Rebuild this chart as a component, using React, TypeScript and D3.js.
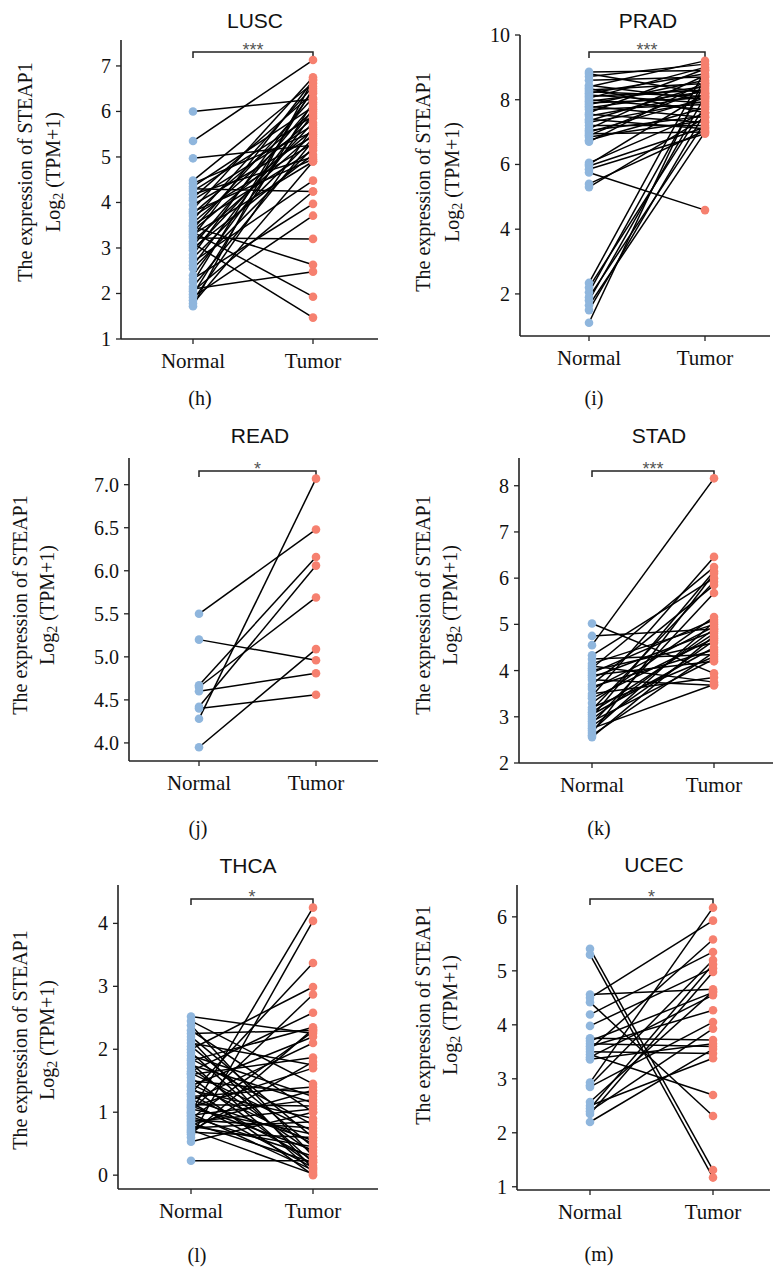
import React from "react";
import * as d3 from "d3";

// ---------- DATA (Normal, Tumor pairs) ----------
const groups = ["Normal", "Tumor"];

const luscNormal = [6.0, 5.35, 4.97, 4.48, 4.42, 4.35, 4.3, 4.25, 4.18, 4.1, 4.05, 3.95, 3.85, 3.8, 3.76, 3.7, 3.62, 3.55, 3.5, 3.47, 3.42, 3.38, 3.35, 3.3, 3.25, 3.22, 3.15, 3.1, 3.05, 3.0, 2.95, 2.85, 2.78, 2.7, 2.62, 2.55, 2.4, 2.32, 2.25, 2.15, 2.1, 2.05, 1.98, 1.92, 1.85, 1.78, 1.72];
const luscTumor = [6.27, 7.13, 5.26, 6.62, 5.55, 6.1, 4.24, 5.9, 5.0, 6.4, 5.7, 5.45, 6.75, 4.95, 6.0, 5.3, 6.55, 5.85, 5.15, 2.63, 6.3, 5.6, 1.93, 4.9, 6.68, 3.2, 5.5, 1.47, 6.15, 5.05, 5.75, 6.45, 5.4, 4.48, 6.05, 5.2, 5.95, 3.97, 6.5, 5.35, 2.48, 4.24, 6.2, 3.71, 5.65, 4.9, 6.7];

const pradNormal = [8.86, 8.8, 8.72, 8.6, 8.45, 8.4, 8.35, 8.3, 8.25, 8.2, 8.15, 8.1, 8.05, 8.0, 7.95, 7.9, 7.85, 7.8, 7.75, 7.7, 7.6, 7.55, 7.5, 7.4, 7.35, 7.3, 7.2, 7.1, 7.05, 7.0, 6.95, 6.9, 6.85, 6.75, 6.7, 6.05, 6.0, 5.95, 5.85, 5.75, 5.4, 5.3, 2.34, 2.2, 2.05, 1.9, 1.8, 1.65, 1.5, 1.11];
const pradTumor = [8.9, 8.2, 9.1, 8.7, 8.0, 9.2, 7.6, 8.5, 8.1, 8.8, 7.9, 8.3, 9.0, 7.7, 8.4, 8.05, 8.6, 7.45, 8.25, 7.85, 8.95, 7.3, 8.15, 7.1, 8.45, 7.95, 7.2, 8.75, 7.5, 8.05, 7.0, 8.35, 7.35, 7.75, 8.55, 7.6, 8.2, 7.15, 6.95, 4.59, 7.05, 7.45, 8.9, 7.8, 8.5, 7.3, 8.1, 7.0, 7.6, 8.7];

const readNormal = [5.5, 5.2, 4.67, 4.65, 4.6, 4.42, 4.4, 4.28, 3.95];
const readTumor = [6.48, 4.96, 6.16, 5.69, 4.81, 6.06, 4.56, 7.07, 5.09];

const stadNormal = [5.02, 4.75, 4.55, 4.33, 4.25, 4.15, 4.1, 4.05, 4.0, 3.95, 3.9, 3.85, 3.8, 3.7, 3.65, 3.6, 3.5, 3.45, 3.4, 3.3, 3.2, 3.15, 3.1, 3.05, 3.0, 2.95, 2.9, 2.85, 2.8, 2.75, 2.7, 2.65, 2.6, 2.56];
const stadTumor = [3.94, 4.9, 8.16, 6.0, 4.35, 5.0, 3.75, 6.24, 4.6, 5.1, 4.2, 4.85, 3.68, 5.85, 4.45, 4.95, 3.85, 6.46, 4.7, 5.16, 4.3, 5.92, 4.8, 4.5, 6.15, 4.9, 4.25, 5.68, 4.65, 3.7, 5.05, 6.1, 4.4, 4.75];

const thcaNormal = [2.52, 2.45, 2.38, 2.3, 2.25, 2.2, 2.15, 2.1, 2.05, 2.0, 1.95, 1.9, 1.85, 1.82, 1.78, 1.75, 1.7, 1.65, 1.62, 1.6, 1.55, 1.5, 1.45, 1.42, 1.4, 1.35, 1.3, 1.28, 1.25, 1.2, 1.18, 1.15, 1.12, 1.1, 1.08, 1.05, 1.02, 1.0, 0.98, 0.95, 0.93, 0.9, 0.88, 0.85, 0.83, 0.8, 0.78, 0.75, 0.72, 0.7, 0.68, 0.65, 0.6, 0.53, 0.23];
const thcaTumor = [2.25, 1.45, 0.3, 1.0, 2.3, 0.6, 0.1, 1.75, 0.45, 2.99, 0.2, 1.25, 0.8, 2.35, 0.05, 1.15, 0.35, 2.58, 0.7, 1.87, 0.15, 1.3, 0.5, 2.2, 0.0, 0.9, 3.37, 0.25, 1.4, 0.55, 2.1, 0.12, 1.1, 0.4, 1.7, 0.65, 2.87, 4.25, 0.08, 1.2, 0.3, 2.28, 0.75, 1.05, 0.2, 1.35, 0.45, 0.85, 0.02, 1.8, 0.6, 2.32, 4.04, 1.0, 0.23];

const ucecNormal = [5.41, 5.3, 4.56, 4.5, 4.42, 4.19, 3.98, 3.75, 3.7, 3.65, 3.6, 3.55, 3.5, 3.45, 3.4, 3.36, 2.93, 2.88, 2.85, 2.57, 2.5, 2.45, 2.4, 2.35, 2.2];
const ucecTumor = [1.31, 1.17, 4.66, 5.93, 2.31, 5.35, 5.05, 3.72, 4.6, 3.6, 4.27, 5.58, 3.47, 2.7, 4.55, 3.65, 6.17, 5.2, 4.05, 4.62, 3.38, 5.12, 3.93, 4.98, 3.55];

const titles = ["LUSC", "PRAD", "READ", "STAD", "THCA", "UCEC"];
const panelLetters = ["(h)", "(i)", "(j)", "(k)", "(l)", "(m)"];
const significance = ["***", "***", "*", "***", "*", "*"];
const normals = [luscNormal, pradNormal, readNormal, stadNormal, thcaNormal, ucecNormal];
const tumors = [luscTumor, pradTumor, readTumor, stadTumor, thcaTumor, ucecTumor];
const tickValues = [
  [1, 2, 3, 4, 5, 6, 7],
  [2, 4, 6, 8, 10],
  [4.0, 4.5, 5.0, 5.5, 6.0, 6.5, 7.0],
  [2, 3, 4, 5, 6, 7, 8],
  [0, 1, 2, 3, 4],
  [1, 2, 3, 4, 5, 6],
];
const tickFormats = ["d", "d", ".1f", "d", "d", "d"];
const domains: [number, number][] = [
  [1, 7.57],
  [0.7, 10],
  [3.79, 7.31],
  [2, 8.6],
  [-0.22, 4.61],
  [0.94, 6.59],
];

// ---------- LAYOUT ----------
const layout = [
  { ax: 121, top: 40, bot: 339, right: 378, nx: 193, tx: 313, br: 52, ttl: [255, 28], lab: [200, 405], yt: [25, 53, 172] },
  { ax: 520, top: 35, bot: 336, right: 770, nx: 589, tx: 705, br: 52, ttl: [648, 28], lab: [594, 405], yt: [423, 452, 182] },
  { ax: 129, top: 458, bot: 761, right: 378, nx: 199, tx: 316, br: 471, ttl: [260, 443], lab: [198, 835], yt: [20, 47, 605] },
  { ax: 519, top: 458, bot: 763, right: 773, nx: 592, tx: 714, br: 471, ttl: [659, 443], lab: [599, 835], yt: [423, 450, 605] },
  { ax: 118, top: 885, bot: 1189, right: 378, nx: 191, tx: 313, br: 899, ttl: [248, 873], lab: [197, 1262], yt: [20, 47, 1040] },
  { ax: 517, top: 885, bot: 1190, right: 770, nx: 590, tx: 713, br: 899, ttl: [654, 872], lab: [599, 1261], yt: [423, 450, 1015] },
];

const BLUE = "#8fb6dd";
const RED = "#f6806f";
const SERIF = "'Liberation Serif', 'DejaVu Serif', serif";
const SANS = "'Liberation Sans', Arial, sans-serif";

function Panel({ i }: { i: number }) {
  const L = layout[i];
  const y = d3.scaleLinear().domain(domains[i]).range([L.bot, L.top]);
  const x = d3.scalePoint<string>().domain(groups).range([L.nx, L.tx]);
  const fmt = d3.format(tickFormats[i]);
  const nArr = normals[i];
  const tArr = tumors[i];
  const pairs = nArr.map((n, k) => [n, tArr[k]] as [number, number]);
  const line = d3
    .line<[string, number]>()
    .x((d) => x(d[0]) as number)
    .y((d) => y(d[1]));
  const xN = x("Normal") as number;
  const xT = x("Tumor") as number;
  return (
    <g>
      <text x={L.ttl[0]} y={L.ttl[1]} textAnchor="middle" fontFamily={SANS} fontSize={21} fill="#111">
        {titles[i]}
      </text>
      <text
        transform={`translate(${L.yt[0]},${L.yt[2]}) rotate(-90)`}
        textAnchor="middle"
        dominantBaseline="central"
        fontFamily={SERIF}
        fontSize={20}
        fill="#111"
      >
        The expression of STEAP1
      </text>
      <text
        transform={`translate(${L.yt[1]},${L.yt[2]}) rotate(-90)`}
        textAnchor="middle"
        dominantBaseline="central"
        fontFamily={SERIF}
        fontSize={20}
        fill="#111"
      >
        Log
        <tspan fontSize={14} dy={5}>
          2
        </tspan>
        <tspan dy={-5}> (TPM+1)</tspan>
      </text>
      <line x1={L.ax} x2={L.ax} y1={L.top} y2={L.bot} stroke="#222" strokeWidth={1.6} />
      <line x1={L.ax} x2={L.right} y1={L.bot} y2={L.bot} stroke="#222" strokeWidth={1.6} />
      {tickValues[i].map((t) => (
        <g key={t}>
          <line x1={L.ax - 5} x2={L.ax} y1={y(t)} y2={y(t)} stroke="#222" strokeWidth={1.3} />
          <text
            x={L.ax - 10}
            y={y(t)}
            textAnchor="end"
            dominantBaseline="central"
            fontFamily={SERIF}
            fontSize={20}
            fill="#111"
          >
            {fmt(t)}
          </text>
        </g>
      ))}
      {groups.map((g) => (
        <g key={g}>
          <line x1={x(g)} x2={x(g)} y1={L.bot} y2={L.bot + 5} stroke="#222" strokeWidth={1.3} />
          <text x={x(g)} y={L.bot + 29} textAnchor="middle" fontFamily={SERIF} fontSize={21} fill="#111">
            {g}
          </text>
        </g>
      ))}
      <path
        d={`M${xN},${L.br + 6}V${L.br}H${xT}V${L.br + 6}`}
        fill="none"
        stroke="#222"
        strokeWidth={1.5}
      />
      <text x={(xN + xT) / 2} y={L.br + 4} textAnchor="middle" fontFamily={SANS} fontSize={18} fill="#555">
        {significance[i]}
      </text>
      {pairs.map((p, k) => (
        <path
          key={"l" + k}
          d={line([
            ["Normal", p[0]],
            ["Tumor", p[1]],
          ]) as string}
          stroke="#000"
          strokeWidth={1.5}
          fill="none"
        />
      ))}
      {nArr.map((v, k) => (
        <circle key={"n" + k} cx={xN} cy={y(v)} r={4.3} fill={BLUE} />
      ))}
      {tArr.map((v, k) => (
        <circle key={"t" + k} cx={xT} cy={y(v)} r={4.3} fill={RED} />
      ))}
      <text x={L.lab[0]} y={L.lab[1]} textAnchor="middle" fontFamily={SERIF} fontSize={20} fill="#111">
        {panelLetters[i]}
      </text>
    </g>
  );
}

export default function App() {
  return (
    <div style={{ position: "absolute", left: 0, top: 0 }}>
      <svg width={775} height={1269} style={{ display: "block", background: "#fff" }}>
        {titles.map((_, i) => (
          <Panel key={i} i={i} />
        ))}
      </svg>
    </div>
  );
}
